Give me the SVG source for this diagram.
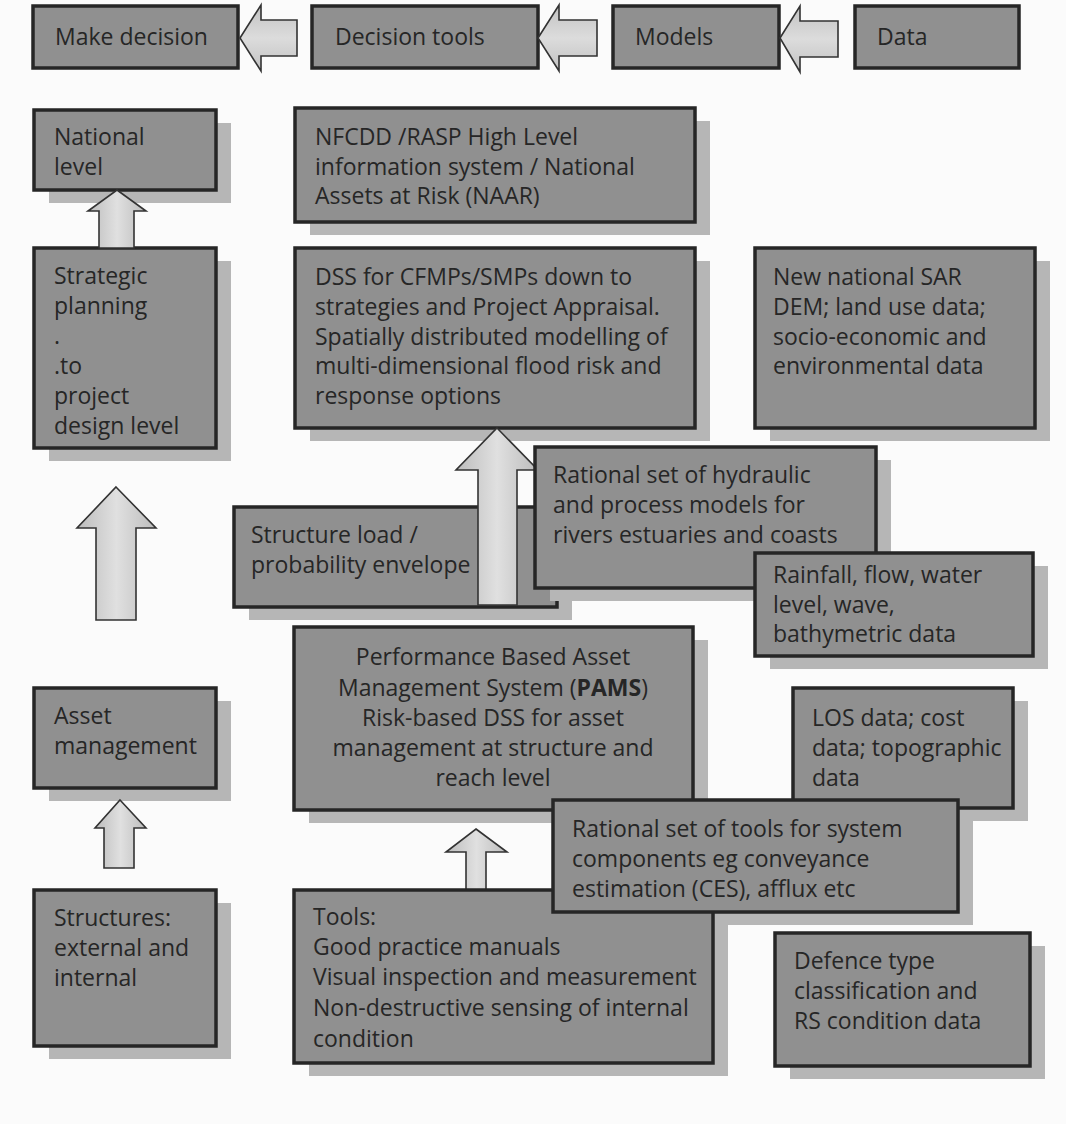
<svg xmlns="http://www.w3.org/2000/svg" width="1066" height="1124" viewBox="0 0 1066 1124">
  <defs>
    <linearGradient id="gradV" x1="0" y1="0" x2="1" y2="0">
      <stop offset="0" stop-color="#bcbcbc"/>
      <stop offset="0.5" stop-color="#e0e0e0"/>
      <stop offset="1" stop-color="#bcbcbc"/>
    </linearGradient>
    <linearGradient id="gradH" x1="0" y1="0" x2="0" y2="1">
      <stop offset="0" stop-color="#c2c2c2"/>
      <stop offset="0.5" stop-color="#dcdcdc"/>
      <stop offset="1" stop-color="#c2c2c2"/>
    </linearGradient>
    <style>
      .box { fill: #909090; stroke: #262626; stroke-width: 3.5; }
      .shadow { fill: #b6b6b6; }
      .t { font-family: "Open Sans", "Noto Sans", "DejaVu Sans", sans-serif; font-size: 23px; fill: #262626; }
      .c { text-anchor: middle; }
      .b { font-weight: bold; }
      .arrowV { fill: url(#gradV); stroke: #333333; stroke-width: 1.6; stroke-linejoin: miter; }
      .arrowH { fill: url(#gradH); stroke: #333333; stroke-width: 1.6; stroke-linejoin: miter; }
    </style>
  </defs>

  <rect width="1066" height="1124" fill="#fbfbfb"/>

  <!-- Header row: Make decision <- Decision tools <- Models <- Data -->
  <g id="make-decision">
    <rect class="box" x="33" y="6" width="205" height="62"/>
    <text class="t" x="55" y="45">Make decision</text>
  </g>
  <g id="decision-tools">
    <rect class="box" x="312" y="6" width="226" height="62"/>
    <text class="t" x="335" y="45">Decision tools</text>
  </g>
  <g id="models">
    <rect class="box" x="613" y="6" width="166" height="62"/>
    <text class="t" x="635" y="45">Models</text>
  </g>
  <g id="data">
    <rect class="box" x="855" y="6" width="164" height="62"/>
    <text class="t" x="877" y="45">Data</text>
  </g>

  <!-- Left column -->
  <g id="national-level">
    <rect class="shadow" x="49" y="123" width="182" height="80"/>
    <rect class="box" x="34" y="110" width="182" height="80"/>
    <text class="t" x="54" y="145">National</text>
    <text class="t" x="54" y="175">level</text>
  </g>
  <g id="strategic-planning">
    <rect class="shadow" x="49" y="261" width="182" height="200"/>
    <rect class="box" x="34" y="248" width="182" height="200"/>
    <text class="t" x="54" y="284">Strategic</text>
    <text class="t" x="54" y="314">planning</text>
    <text class="t" x="54" y="344">.</text>
    <text class="t" x="54" y="374">.to</text>
    <text class="t" x="54" y="404">project</text>
    <text class="t" x="54" y="434">design level</text>
  </g>
  <g id="asset-management">
    <rect class="shadow" x="49" y="701" width="182" height="100"/>
    <rect class="box" x="34" y="688" width="182" height="100"/>
    <text class="t" x="54" y="724">Asset</text>
    <text class="t" x="54" y="754">management</text>
  </g>
  <g id="structures">
    <rect class="shadow" x="49" y="903" width="182" height="156"/>
    <rect class="box" x="34" y="890" width="182" height="156"/>
    <text class="t" x="54" y="926">Structures:</text>
    <text class="t" x="54" y="956">external and</text>
    <text class="t" x="54" y="986">internal</text>
  </g>

  <!-- Middle and right columns -->
  <g id="nfcdd-rasp">
    <rect class="shadow" x="310" y="121" width="400" height="114"/>
    <rect class="box" x="295" y="108" width="400" height="114"/>
    <text class="t" x="315" y="145">NFCDD /RASP High Level</text>
    <text class="t" x="315" y="175">information system / National</text>
    <text class="t" x="315" y="204">Assets at Risk (NAAR)</text>
  </g>
  <g id="dss-cfmp">
    <rect class="shadow" x="310" y="261" width="400" height="180"/>
    <rect class="box" x="295" y="248" width="400" height="180"/>
    <text class="t" x="315" y="285">DSS for CFMPs/SMPs down to</text>
    <text class="t" x="315" y="315">strategies and Project Appraisal.</text>
    <text class="t" x="315" y="345">Spatially distributed modelling of</text>
    <text class="t" x="315" y="374">multi-dimensional flood risk and</text>
    <text class="t" x="315" y="404">response options</text>
  </g>
  <g id="sar-dem-data">
    <rect class="shadow" x="770" y="261" width="280" height="180"/>
    <rect class="box" x="755" y="248" width="280" height="180"/>
    <text class="t" x="773" y="285">New national SAR</text>
    <text class="t" x="773" y="315">DEM; land use data;</text>
    <text class="t" x="773" y="345">socio-economic and</text>
    <text class="t" x="773" y="374">environmental data</text>
  </g>
  <g id="structure-load">
    <rect class="shadow" x="249" y="520" width="323" height="100"/>
    <rect class="box" x="234" y="507" width="323" height="100"/>
    <text class="t" x="251" y="543">Structure load /</text>
    <text class="t" x="251" y="573">probability envelope</text>
  </g>

  <!-- Block arrows -->
  <g id="connectors">
    <polygon class="arrowH" points="240,38 261,5 261,20 297,20 297,56 261,56 261,71"/>
    <polygon class="arrowH" points="538,38 559,5 559,20 597,20 597,56 559,56 559,71"/>
    <polygon class="arrowH" points="780,38 800,6 800,21 838,21 838,57 800,57 800,72"/>
    <polygon class="arrowV" points="117,190 146,211 134,211 134,248 99,248 99,211 88,211"/>
    <polygon class="arrowV" points="116,487 156,528 136,528 136,620 96,620 96,528 77,528"/>
    <polygon class="arrowV" points="120,800 146,828 134,828 134,868 104,868 104,828 95,828"/>
    <polygon class="arrowV" points="497,428 538,470 517,470 517,605 478,605 478,470 456,470"/>
    <polygon class="arrowV" points="476,829 507,852 486,852 486,890 466,890 466,852 446,852"/>
  </g>

  <g id="hydraulic-models">
    <rect class="shadow" x="550" y="460" width="341" height="141"/>
    <rect class="box" x="535" y="447" width="341" height="141"/>
    <text class="t" x="553" y="483">Rational set of hydraulic</text>
    <text class="t" x="553" y="513">and process models for</text>
    <text class="t" x="553" y="543">rivers estuaries and coasts</text>
  </g>
  <g id="rainfall-data">
    <rect class="shadow" x="770" y="566" width="278" height="103"/>
    <rect class="box" x="755" y="553" width="278" height="103"/>
    <text class="t" x="773" y="583">Rainfall, flow, water</text>
    <text class="t" x="773" y="613">level, wave,</text>
    <text class="t" x="773" y="642">bathymetric data</text>
  </g>
  <g id="pams">
    <rect class="shadow" x="309" y="640" width="399" height="183"/>
    <rect class="box" x="294" y="627" width="399" height="183"/>
    <text class="t c" x="493" y="665">Performance Based Asset</text>
    <text class="t c" x="493" y="696">Management System (<tspan class="b">PAMS</tspan>)</text>
    <text class="t c" x="493" y="726">Risk-based DSS for asset</text>
    <text class="t c" x="493" y="756">management at structure and</text>
    <text class="t c" x="493" y="786">reach level</text>
  </g>
  <g id="los-data">
    <rect class="shadow" x="808" y="701" width="220" height="120"/>
    <rect class="box" x="793" y="688" width="220" height="120"/>
    <text class="t" x="812" y="726">LOS data; cost</text>
    <text class="t" x="812" y="756">data; topographic</text>
    <text class="t" x="812" y="786">data</text>
  </g>
  <g id="system-tools">
    <path class="shadow" d="M568,813 H973 V925 H715 V888 H568 Z"/>
  </g>
  <g id="tools">
    <rect class="shadow" x="309" y="903" width="419" height="173"/>
    <rect class="box" x="294" y="890" width="419" height="173"/>
    <text class="t" x="313" y="925">Tools:</text>
    <text class="t" x="313" y="955">Good practice manuals</text>
    <text class="t" x="313" y="985">Visual inspection and measurement</text>
    <text class="t" x="313" y="1016">Non-destructive sensing of internal</text>
    <text class="t" x="313" y="1047">condition</text>
  </g>
  <g id="system-tools-box">
    <rect class="box" x="553" y="800" width="405" height="112"/>
    <text class="t" x="572" y="837">Rational set of tools for system</text>
    <text class="t" x="572" y="867">components eg conveyance</text>
    <text class="t" x="572" y="897">estimation (CES), afflux etc</text>
  </g>
  <g id="defence-data">
    <rect class="shadow" x="790" y="946" width="255" height="133"/>
    <rect class="box" x="775" y="933" width="255" height="133"/>
    <text class="t" x="794" y="969">Defence type</text>
    <text class="t" x="794" y="999">classification and</text>
    <text class="t" x="794" y="1029">RS condition data</text>
  </g>
</svg>
